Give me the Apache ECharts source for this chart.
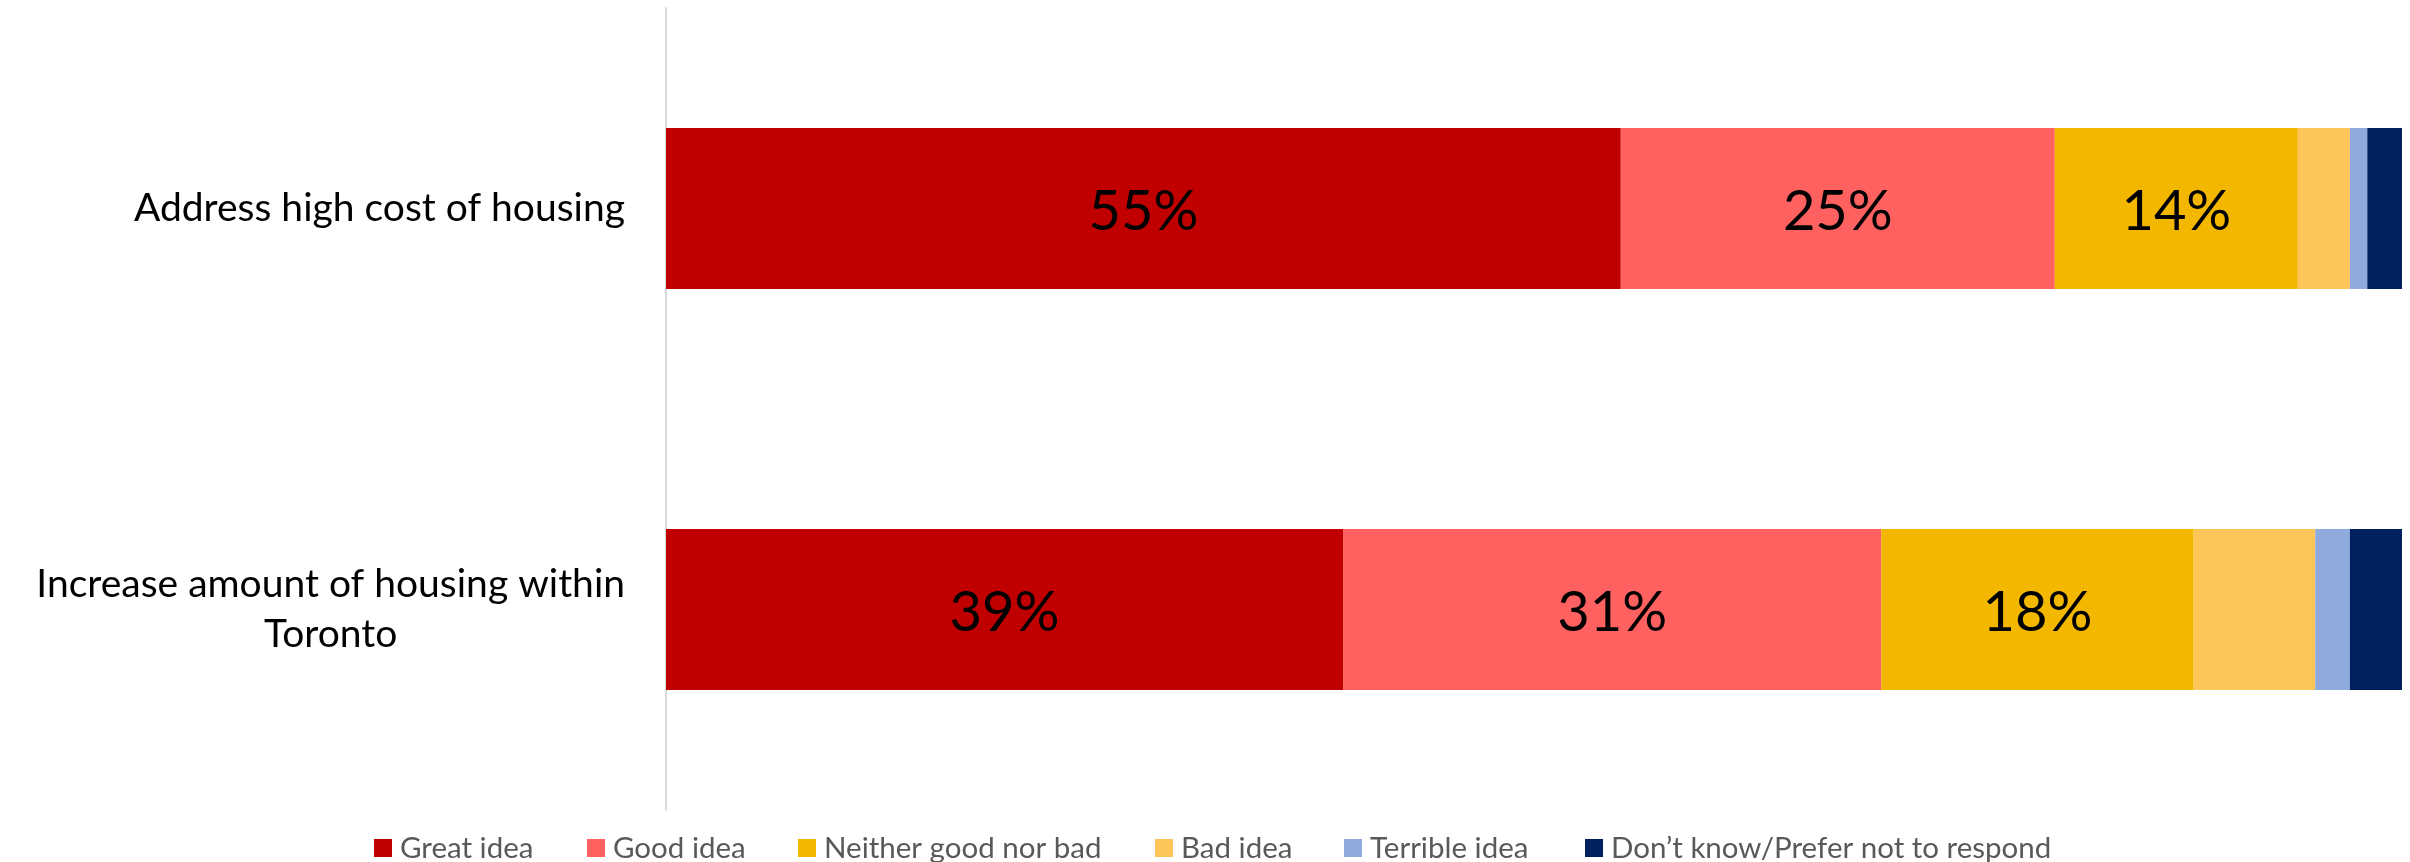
<!DOCTYPE html>
<html>
<head>
<meta charset="utf-8">
<script src="https://cdn.jsdelivr.net/npm/echarts@6/dist/echarts.min.js"></script>
<style>
html,body{margin:0;padding:0;background:#fff;}
#chart{width:2410px;height:862px;}
</style>
</head>
<body>
<div id="chart"></div>
<script>
const categories = ['Address high cost of housing', 'Increase amount of housing within\nToronto'];
const seriesNames = ['Great idea', 'Good idea', 'Neither good nor bad', 'Bad idea', 'Terrible idea', 'Don\u2019t know/Prefer not to respond'];
const greatIdea = [55, 39];
const goodIdea = [25, 31];
const neitherIdea = [14, 18];
const badIdea = [3, 7];
const terribleIdea = [1, 2];
const dontKnow = [2, 3];
const colors = ['#C00000', '#FF6161', '#F3B700', '#FEC658', '#8FAADC', '#002060'];

const values = [greatIdea, goodIdea, neitherIdea, badIdea, terribleIdea, dontKnow];
const legendLefts = [374, 587, 798, 1155, 1344, 1585];

const chart = echarts.init(document.getElementById('chart'), null, {renderer: 'canvas'});
const option = {
  animation: false,
  backgroundColor: '#ffffff',
  grid: {left: 666, right: 8, top: 8, bottom: 52, containLabel: false},
  xAxis: {
    type: 'value', min: 0, max: 100, show: false
  },
  yAxis: {
    type: 'category',
    data: categories,
    inverse: true,
    axisLine: {show: true, lineStyle: {color: '#D9D9D9', width: 2}},
    axisTick: {show: false},
    axisLabel: {
      margin: 41,
      fontFamily: 'Lato',
      fontSize: 39,
      color: '#000000',
      lineHeight: 50,
      formatter: function (v) {
        return v.split('\n').map(function (s) { return '{c|' + s + '}'; }).join('\n');
      },
      rich: {c: {align: 'center', fontFamily: 'Lato', fontSize: 39, lineHeight: 50, color: '#000000'}}
    }
  },
  legend: seriesNames.map(function (n, i) {
    return {
      data: [n],
      left: legendLefts[i],
      top: 833,
      padding: 0,
      icon: 'rect',
      itemWidth: 18,
      itemHeight: 18,
      textStyle: {fontFamily: 'Lato', fontSize: 29.5, color: '#595959', lineHeight: 30, padding: [0, 0, 0, 3]}
    };
  }),
  series: seriesNames.map(function (n, i) {
    return {
      name: n,
      type: 'bar',
      stack: 'total',
      barWidth: 161,
      data: values[i],
      itemStyle: {color: colors[i]},
      label: {
        show: true,
        position: 'inside',
        offset: [0, 3],
        fontFamily: 'Lato',
        fontSize: 56,
        color: '#000000',
        formatter: function (p) { return p.value >= 10 ? p.value + '%' : ''; }
      }
    };
  })
};
chart.setOption(option);
</script>
</body>
</html>
